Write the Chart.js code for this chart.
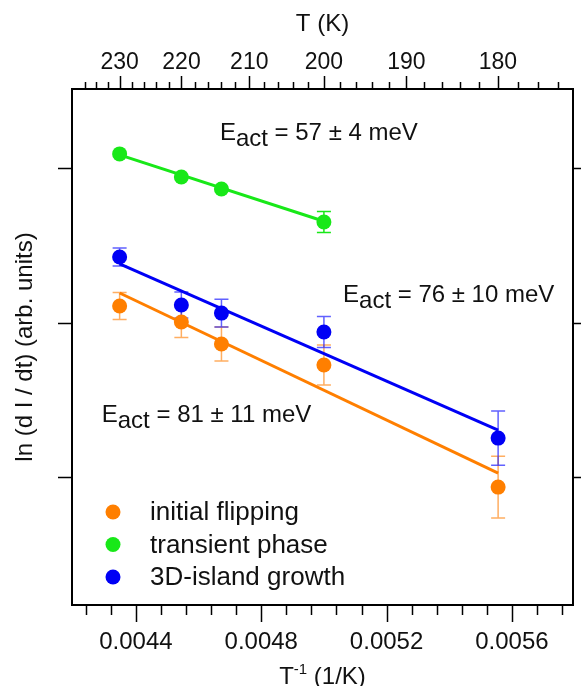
<!DOCTYPE html>
<html>
<head>
<meta charset="utf-8">
<title>Activation energy</title>
<script src="https://cdn.jsdelivr.net/npm/chart.js@4.4.1/dist/chart.umd.min.js"></script>
<style>
    html, body { margin: 0; padding: 0; background: #fff; }
    #wrap { width: 581px; height: 686px; position: relative; }
</style>
</head>
<body>
<div id="wrap"><canvas id="chart"></canvas></div>
<script>
// Values

// x positions: 1/T for T = 230, 220, 214, 200, 180 K
const invTemp = [0.004348, 0.004545, 0.004673, 0.005000, 0.005556];

const flipY     = [-0.893, -0.997, -1.139, -1.275, -2.065];
const flipErr   = [0.087, 0.100, 0.110, 0.130, 0.200];

const transY    = [0.091, -0.058, -0.136, -0.350];
const transErr  = [0, 0, 0, 0.068];

const islandY   = [-0.576, -0.887, -0.939, -1.061, -1.748];
const islandErr = [0.058, 0.084, 0.090, 0.100, 0.175];

// fitted lines, start and end points
const flipFitX   = [0.004348, 0.005556];
const flipFitY   = [-0.809, -1.974];
const transFitX  = [0.004348, 0.005000];
const transFitY  = [0.085, -0.345];
const islandFitX = [0.004348, 0.005556];
const islandFitY = [-0.621, -1.696];

const seriesLabels = ['initial flipping', 'transient phase', '3D-island growth'];

// axis ticks
const bottomTicks = [0.0044, 0.0048, 0.0052, 0.0056];
const bottomMinorTicks = [0.00424, 0.00432, 0.00448, 0.00456, 0.00464, 0.00472,
    0.00488, 0.00496, 0.00504, 0.00512, 0.00528, 0.00536, 0.00544, 0.00552,
    0.00568, 0.00576];
const topTemps = [230, 220, 210, 200, 190, 180];
const topMinorTemps = [236, 234, 232, 228, 226, 224, 222, 218, 216, 214, 212,
    208, 206, 204, 202, 198, 196, 194, 192, 188, 186, 184, 182, 178, 176, 174];
const yTicks = [-2, -1, 0];

// activation energy notes: [number part, x, y]
const notes = [
    ['57 \u00b1 4 meV', 0.004668, 0.181],
    ['76 \u00b1 10 meV', 0.005061, -0.867],
    ['81 \u00b1 11 meV', 0.004291, -1.644]
];

const fontFamily = "'Liberation Sans', Arial, Helvetica, sans-serif";
Chart.defaults.font.family = fontFamily;
Chart.defaults.color = '#111';

const orange = 'rgb(255, 127, 0)';
const green = 'rgb(24, 232, 24)';
const blue = 'rgb(0, 0, 245)';

function points(xs, ys) {
    return ys.map((y, i) => ({ x: xs[i], y: y }));
}

// Error bars under the markers
const errorBarPlugin = {
    id: 'errorBars',
    beforeDatasetsDraw(chart) {
        const ctx = chart.ctx;
        const xs = chart.scales.x, ys = chart.scales.y;
        ctx.save();
        chart.data.datasets.forEach(ds => {
            if (!ds.errors) return;
            ctx.strokeStyle = ds.errorColor;
            ctx.lineWidth = 1.5;
            ds.data.forEach((p, i) => {
                if (!ds.errors[i]) return;
                const px = xs.getPixelForValue(p.x);
                const top = ys.getPixelForValue(p.y + ds.errors[i]);
                const bot = ys.getPixelForValue(p.y - ds.errors[i]);
                ctx.beginPath();
                ctx.moveTo(px, top); ctx.lineTo(px, bot);
                ctx.moveTo(px - 7, top); ctx.lineTo(px + 7, top);
                ctx.moveTo(px - 7, bot); ctx.lineTo(px + 7, bot);
                ctx.stroke();
            });
        });
        ctx.restore();
    }
};

// Outward tick marks, notes, legend and bottom title
const decorPlugin = {
    id: 'decor',
    afterDraw(chart) {
        const ctx = chart.ctx;
        const a = chart.chartArea;
        const xs = chart.scales.x, xt = chart.scales.xTop, ys = chart.scales.y;
        ctx.save();
        ctx.strokeStyle = '#000';
        ctx.lineWidth = 1.5;
        ctx.beginPath();
        bottomTicks.forEach(v => {
            const px = Math.round(xs.getPixelForValue(v)) + 0.5;
            ctx.moveTo(px, a.bottom); ctx.lineTo(px, a.bottom + 17);
        });
        bottomMinorTicks.forEach(v => {
            const px = Math.round(xs.getPixelForValue(v)) + 0.5;
            ctx.moveTo(px, a.bottom); ctx.lineTo(px, a.bottom + 10);
        });
        topTemps.forEach(t => {
            const px = Math.round(xt.getPixelForValue(1 / t)) + 0.5;
            ctx.moveTo(px, a.top); ctx.lineTo(px, a.top - 13);
        });
        topMinorTemps.forEach(t => {
            const px = Math.round(xt.getPixelForValue(1 / t)) + 0.5;
            ctx.moveTo(px, a.top); ctx.lineTo(px, a.top - 7);
        });
        yTicks.forEach(v => {
            const py = Math.round(ys.getPixelForValue(v)) + 0.5;
            ctx.moveTo(a.left, py); ctx.lineTo(a.left - 14, py);
            ctx.moveTo(a.right, py); ctx.lineTo(a.right + 9, py);
        });
        ctx.stroke();

        // E_act notes with subscript
        ctx.fillStyle = '#111';
        ctx.textBaseline = 'alphabetic';
        ctx.textAlign = 'left';
        const big = '24px ' + fontFamily;
        notes.forEach(n => {
            let px = xs.getPixelForValue(n[1]);
            const py = ys.getPixelForValue(n[2]);
            ctx.font = big;
            ctx.fillText('E', px, py);
            px += ctx.measureText('E').width;
            ctx.fillText('act', px, py + 6);
            px += ctx.measureText('act').width;
            ctx.fillText(' = ' + n[0], px, py);
        });

        // legend
        const scatter = chart.data.datasets.filter(d => d.type === 'scatter');
        ctx.textBaseline = 'middle';
        scatter.forEach((d, i) => {
            const cy = 512 + i * 32.5;
            ctx.fillStyle = d.backgroundColor;
            ctx.beginPath();
            ctx.arc(113, cy, 7.5, 0, Math.PI * 2);
            ctx.fill();
            ctx.fillStyle = '#111';
            ctx.font = '26px ' + fontFamily;
            ctx.fillText(d.label, 150, cy + 1);
        });

        // bottom title: T^-1 (1/K)
        ctx.textBaseline = 'alphabetic';
        ctx.font = big;
        const w1 = ctx.measureText('T').width;
        const w3 = ctx.measureText(' (1/K)').width;
        ctx.font = '15px ' + fontFamily;
        const w2 = ctx.measureText('-1').width;
        let tx = (a.left + a.right) / 2 - (w1 + w2 + w3) / 2;
        const ty = 684;
        ctx.font = big;
        ctx.fillText('T', tx, ty);
        ctx.font = '15px ' + fontFamily;
        ctx.fillText('-1', tx + w1, ty - 10);
        ctx.font = big;
        ctx.fillText(' (1/K)', tx + w1 + w2, ty);
        ctx.restore();
    }
};

const frame = { display: true, color: '#000', width: 2 };
const noGrid = { display: false, drawTicks: false };

new Chart(document.getElementById('chart'), {
    data: {
        datasets: [
            { type: 'scatter', label: seriesLabels[0], data: points(invTemp, flipY), errors: flipErr,
              errorColor: 'rgba(255, 140, 30, 0.7)', backgroundColor: orange, pointRadius: 7.5, borderWidth: 0, order: 0 },
            { type: 'scatter', label: seriesLabels[1], data: points(invTemp, transY), errors: transErr,
              errorColor: green, backgroundColor: green, pointRadius: 7.5, borderWidth: 0, order: 0 },
            { type: 'scatter', label: seriesLabels[2], data: points(invTemp, islandY), errors: islandErr,
              errorColor: 'rgba(30, 30, 255, 0.7)', backgroundColor: blue, pointRadius: 7.5, borderWidth: 0, order: 0 },
            { type: 'line', label: 'fit 1', data: points(flipFitX, flipFitY), borderColor: orange, borderWidth: 3, pointRadius: 0, order: 1 },
            { type: 'line', label: 'fit 2', data: points(transFitX, transFitY), borderColor: green, borderWidth: 3, pointRadius: 0, order: 1 },
            { type: 'line', label: 'fit 3', data: points(islandFitX, islandFitY), borderColor: blue, borderWidth: 3, pointRadius: 0, order: 1 }
        ]
    },
    options: {
        responsive: true,
        maintainAspectRatio: false,
        animation: false,
        layout: { padding: 0 },
        plugins: { legend: { display: false }, tooltip: { enabled: false } },
        scales: {
            x: {
                type: 'linear', position: 'bottom', min: 0.004196, max: 0.005795,
                grid: noGrid, border: frame,
                afterBuildTicks: axis => { axis.ticks = bottomTicks.map(v => ({ value: v })); },
                afterFit: axis => { axis.height = 81; },
                ticks: { autoSkip: false, maxRotation: 0, padding: 23, color: '#111',
                         font: { size: 24 }, callback: v => v.toFixed(4) }
            },
            xTop: {
                type: 'linear', position: 'top', min: 0.004196, max: 0.005795,
                grid: noGrid, border: frame,
                afterBuildTicks: axis => { axis.ticks = topTemps.map(t => ({ value: 1 / t })); },
                afterFit: axis => { axis.height = 89; },
                ticks: { autoSkip: false, maxRotation: 0, padding: 13, color: '#111',
                         font: { size: 23 }, callback: v => String(Math.round(1 / v)) },
                title: { display: true, text: 'T (K)', color: '#111', font: { size: 24 }, padding: { top: 10 } }
            },
            y: {
                type: 'linear', position: 'left', min: -2.828, max: 0.511,
                grid: noGrid, border: frame,
                afterBuildTicks: axis => { axis.ticks = yTicks.map(v => ({ value: v })); },
                afterFit: axis => { axis.width = 72; },
                ticks: { display: false },
                title: { display: true, text: 'ln (d I / dt) (arb. units)', color: '#111',
                         font: { size: 24 }, padding: { top: 11 } }
            },
            yRight: {
                type: 'linear', position: 'right', min: -2.828, max: 0.511,
                grid: noGrid, border: frame,
                afterFit: axis => { axis.width = 8; },
                ticks: { display: false }
            }
        }
    },
    plugins: [errorBarPlugin, decorPlugin]
});
</script>
</body>
</html>
